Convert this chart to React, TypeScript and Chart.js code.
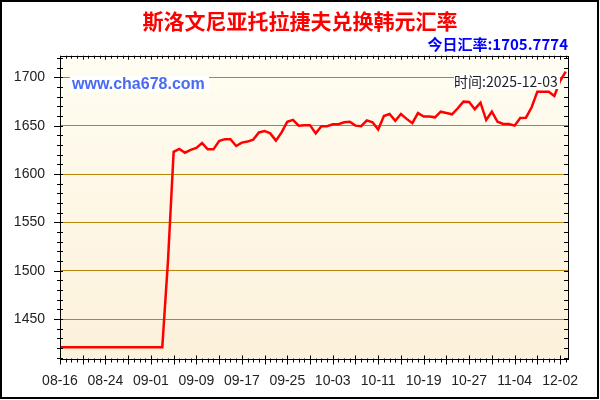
import { useEffect, useRef } from "react";
import { Chart, registerables } from "chart.js";

Chart.register(...registerables);

const TITLE = "斯洛文尼亚托拉捷夫兑换韩元汇率";
const TODAY_LABEL = "今日汇率:1705.7774";
const SITE_LABEL = "www.cha678.com";
const TIME_LABEL = "时间:2025-12-03";

const dates = [
  "08-16", "08-17", "08-18", "08-19", "08-20", "08-21", "08-22", "08-23",
  "08-24", "08-25", "08-26", "08-27", "08-28", "08-29", "08-30", "08-31",
  "09-01", "09-02", "09-03", "09-04", "09-05", "09-06", "09-07", "09-08",
  "09-09", "09-10", "09-11", "09-12", "09-13", "09-14", "09-15", "09-16",
  "09-17", "09-18", "09-19", "09-20", "09-21", "09-22", "09-23", "09-24",
  "09-25", "09-26", "09-27", "09-28", "09-29", "09-30", "10-01", "10-02",
  "10-03", "10-04", "10-05", "10-06", "10-07", "10-08", "10-09", "10-10",
  "10-11", "10-12", "10-13", "10-14", "10-15", "10-16", "10-17", "10-18",
  "10-19", "10-20", "10-21", "10-22", "10-23", "10-24", "10-25", "10-26",
  "10-27", "10-28", "10-29", "10-30", "10-31", "11-01", "11-02", "11-03",
  "11-04", "11-05", "11-06", "11-07", "11-10", "11-14", "11-20", "11-26",
  "12-02", "12-03",
];

const rates = [
  1421, 1421, 1421, 1421, 1421, 1421, 1421, 1421, 1421, 1421,
  1421, 1421, 1421, 1421, 1421, 1421, 1421, 1421, 1421, 1510,
  1623, 1626, 1622, 1625, 1627, 1632, 1625.5, 1625.5, 1634, 1636,
  1636, 1629, 1632.5, 1633.5, 1635.5, 1643, 1644.5, 1642, 1634.5, 1643,
  1654, 1656, 1650, 1650.5, 1650.5, 1642, 1649.5, 1649.5, 1651.5, 1651.5,
  1653.5, 1654, 1650, 1649.5, 1655.5, 1653.5, 1646, 1660, 1662, 1655,
  1662, 1657, 1652.5, 1663, 1659.5, 1659.5, 1658.6, 1664.4, 1663, 1661.7,
  1668, 1674.8, 1674.5, 1667, 1673.7, 1655.8, 1664.4, 1654, 1651.7, 1651.7,
  1650, 1658, 1658.2, 1669, 1685, 1685, 1685, 1680.7, 1696, 1705.7774,
];

const xTickLabels = [
  "08-16", "08-24", "09-01", "09-09", "09-17", "09-25",
  "10-03", "10-11", "10-19", "10-27", "11-04", "12-02",
];
const yTicks = [1450, 1500, 1550, 1600, 1650, 1700];
const yMin = 1409.3;
const yMax = 1722.3;
const xMaxPad = 0.4;

const LATIN = '"Liberation Sans", Arial, sans-serif';
const CJK = '"Noto Sans CJK SC", "Liberation Sans", sans-serif';

const decorPlugin = {
  id: "decor",
  beforeDraw(chart: any) {
    const { ctx, chartArea } = chart;
    const { left, right, top, bottom } = chartArea;
    const g = ctx.createLinearGradient(0, top, 0, bottom);
    g.addColorStop(0, "#fffdf2");
    g.addColorStop(1, "#fcf1da");
    ctx.save();
    ctx.fillStyle = g;
    ctx.fillRect(left, top, right - left, bottom - top);
    ctx.restore();
  },
  afterDraw(chart: any) {
    const { ctx, chartArea, scales } = chart;
    const { left, right, top, bottom } = chartArea;
    const ys = scales.y;
    const xs = scales.x;
    ctx.save();
    ctx.strokeStyle = "#000";
    ctx.lineWidth = 1;
    ctx.beginPath();
    for (let v = Math.ceil(yMin / 10) * 10; v <= yMax; v += 10) {
      const y = Math.round(ys.getPixelForValue(v)) + 0.5;
      const major = v % 50 === 0;
      ctx.moveTo(left - (major ? 6 : 3), y);
      ctx.lineTo(left + 3, y);
      ctx.moveTo(right - 4, y);
      ctx.lineTo(right, y);
    }
    for (let i = 0; i < dates.length; i++) {
      const x = Math.round(xs.getPixelForValue(i)) + 0.5;
      const major = i % 4 === 0;
      ctx.moveTo(x, bottom - (major ? 3 : 0));
      ctx.lineTo(x, bottom + (major ? 6 : 4));
      ctx.moveTo(x, top);
      ctx.lineTo(x, top + (major ? 4 : 3));
    }
    ctx.stroke();
    ctx.strokeRect(Math.round(left) + 0.5, Math.round(top) + 0.5, Math.round(right - left), Math.round(bottom - top));
    ctx.lineWidth = 2;
    ctx.strokeRect(1, 1, chart.width - 3, chart.height - 3);
    ctx.restore();
  },
};

export default function App() {
  const canvasRef = useRef<HTMLCanvasElement | null>(null);

  useEffect(() => {
    const canvas = canvasRef.current;
    if (!canvas) return;
    const tickIdx = xTickLabels.map((l) => dates.indexOf(l));
    const chart = new Chart(canvas, {
      type: "line",
      data: {
        datasets: [
          {
            label: "rate",
            data: rates.map((v, i) => ({ x: i, y: v })),
            borderColor: "#ff0000",
            borderWidth: 2.5,
            pointRadius: 0,
            tension: 0,
            fill: false,
          },
        ],
      },
      options: {
        responsive: false,
        animation: false,
        events: [],
        layout: { padding: { left: 0, right: 0, top: 0, bottom: 0 } },
        plugins: {
          legend: { display: false },
          tooltip: { enabled: false },
          title: {
            display: true,
            text: TITLE,
            color: "#ff0000",
            font: { family: CJK, size: 21, weight: "bold" },
            padding: { top: 8, bottom: 2 },
          },
          subtitle: {
            display: true,
            fullSize: false,
            text: TODAY_LABEL,
            align: "end",
            color: "#0000ff",
            font: { family: CJK, size: 15, weight: "bold" },
            padding: { top: 0, bottom: 2.5 },
          },
        },
        scales: {
          x: {
            type: "linear",
            min: 0,
            max: dates.length - 1 + xMaxPad,
            afterBuildTicks: (scale: any) => {
              scale.ticks = tickIdx.map((v) => ({ value: v }));
            },
            afterFit: (scale: any) => {
              scale.height = 41.5;
            },
            grid: { display: false, drawTicks: false },
            border: { display: false },
            ticks: {
              autoSkip: false,
              maxRotation: 0,
              padding: 14,
              color: "#222",
              font: { family: LATIN, size: 14 },
              callback: (v: any) => dates[v] ?? "",
            },
          },
          y: {
            type: "linear",
            min: yMin,
            max: yMax,
            afterBuildTicks: (scale: any) => {
              scale.ticks = yTicks.map((v) => ({ value: v }));
            },
            afterFit: (scale: any) => {
              scale.width = 60;
            },
            grid: { color: "#b8860b", lineWidth: 1, drawTicks: false },
            border: { display: false },
            ticks: {
              padding: 15,
              color: "#222",
              font: { family: LATIN, size: 14 },
              callback: (v: any) => String(v),
            },
          },
          yRight: {
            type: "linear",
            position: "right",
            min: yMin,
            max: yMax,
            afterFit: (scale: any) => {
              scale.width = 32;
            },
            grid: { display: false, drawTicks: false },
            border: { display: false },
            ticks: { display: false },
          },
        },
      },
      plugins: [decorPlugin],
    } as any);
    return () => chart.destroy();
  }, []);

  return (
    <div style={{ position: "absolute", left: 0, top: 0, width: 600, height: 400, background: "#fff" }}>
      <canvas ref={canvasRef} width={600} height={400} style={{ display: "block" }} />
      <div
        style={{
          position: "absolute",
          left: 70,
          top: 76,
          width: 139,
          height: 16,
          background: "#fff",
          color: "#4a6cf0",
          font: `bold 16px ${LATIN}`,
          lineHeight: "16px",
          paddingLeft: 2,
          boxSizing: "border-box",
          whiteSpace: "nowrap",
        }}
      >
        {SITE_LABEL}
      </div>
      <div
        style={{
          position: "absolute",
          left: 454,
          top: 73,
          width: 106,
          height: 16,
          background: "#fff",
          color: "#222",
          font: `14px ${CJK}`,
          lineHeight: "16px",
          whiteSpace: "nowrap",
          overflow: "hidden",
        }}
      >
        {TIME_LABEL}
      </div>
    </div>
  );
}
